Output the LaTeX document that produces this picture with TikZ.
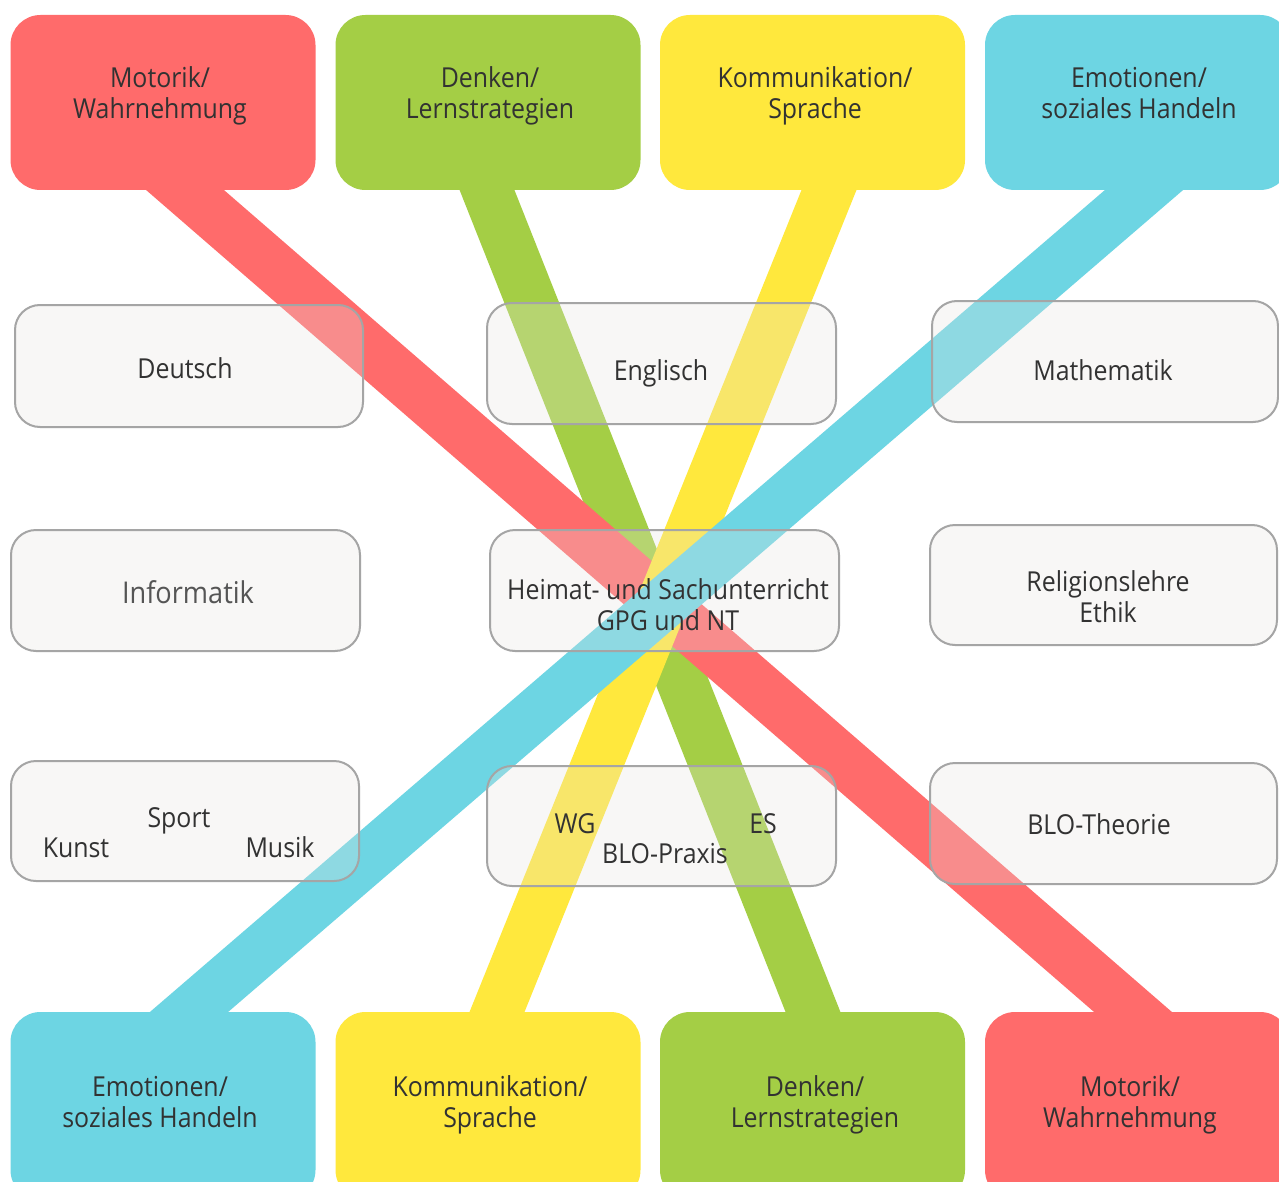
\documentclass[tikz,border=0pt]{standalone}
\usepackage{fontspec}
\setmainfont[FakeStretch=0.905]{Open Sans}
\definecolor{redc}{RGB}{255,107,107}
\definecolor{greenc}{RGB}{164,206,69}
\definecolor{yellowc}{RGB}{255,232,61}
\definecolor{bluec}{RGB}{109,213,227}
\definecolor{txt}{RGB}{50,50,50}
\definecolor{txtlight}{RGB}{85,85,85}
\definecolor{boxfill}{RGB}{230,228,226}
\definecolor{boxline}{RGB}{165,165,165}
\begin{document}
\begin{tikzpicture}[x=1pt,y=-1pt,
  cbox/.style={draw=none, rounded corners=30pt, minimum width=305pt, inner sep=0pt},
  gbox/.style={draw=boxline, line width=2pt, fill=boxfill, fill opacity=0.28, rounded corners=25pt, inner sep=0pt},
  lbl/.style={text=txt, align=center, font=\fontsize{27.5}{31}\selectfont, inner sep=0pt},
  band/.style={line width=51pt, shorten <=-30pt, shorten >=-30pt}]
\path[use as bounding box, clip] (0,0) rectangle (1279,1182);
\fill[white] (0,0) rectangle (1279,1182);

% coloured boxes, top row
\node[cbox, fill=redc,    minimum height=175pt] (motT) at (163,102.5) {};
\node[cbox, fill=greenc,  minimum height=175pt] (denT) at (488,102.5) {};
\node[cbox, fill=yellowc, minimum height=175pt] (komT) at (812.5,102.5) {};
\node[cbox, fill=bluec,   minimum height=175pt] (emoT) at (1137.5,102.5) {};
% coloured boxes, bottom row
\node[cbox, fill=bluec,   minimum height=188pt] (emoB) at (163,1106) {};
\node[cbox, fill=yellowc, minimum height=188pt] (komB) at (488,1106) {};
\node[cbox, fill=greenc,  minimum height=188pt] (denB) at (812.5,1106) {};
\node[cbox, fill=redc,    minimum height=188pt] (motB) at (1137.5,1106) {};

% band end points
\coordinate (rA) at (185,190);  \coordinate (rB) at (1133,1012);
\coordinate (gA) at (487,190);  \coordinate (gB) at (813,1012);
\coordinate (yA) at (829,190);  \coordinate (yB) at (497,1012);
\coordinate (bA) at (1144,190); \coordinate (bB) at (189,1012);

\draw[band, greenc]  (gA) -- (gB);
\draw[band, redc]    (rA) -- (rB);
\draw[band, yellowc] (yA) -- (yB);
\draw[band, bluec]   (bA) -- (bB);

% texts of coloured boxes
\node[lbl] (motTt) at (160,96.5) {Motorik/\strut\\Wahrnehmung\strut};
\node[lbl] (denTt) at (490,96.5) {Denken/\strut\\Lernstrategien\strut};
\node[lbl] (komTt) at (815,96.5) {Kommunikation/\strut\\Sprache\strut};
\node[lbl] (emoTt) at (1139,96.5) {Emotionen/\strut\\soziales Handeln\strut};
\node[lbl] (emoBt) at (160,1105.5) {Emotionen/\strut\\soziales Handeln\strut};
\node[lbl] (komBt) at (490,1105.5) {Kommunikation/\strut\\Sprache\strut};
\node[lbl] (denBt) at (815,1105.5) {Denken/\strut\\Lernstrategien\strut};
\node[lbl] (motBt) at (1130,1105.5) {Motorik/\strut\\Wahrnehmung\strut};

% grey subject boxes
\node[gbox, minimum width=348pt, minimum height=122pt] (deu) at (189,366) {};
\node[gbox, minimum width=349pt, minimum height=121pt] (eng) at (661.5,363.5) {};
\node[gbox, minimum width=346pt, minimum height=121pt] (mat) at (1105,361.5) {};
\node[gbox, minimum width=349pt, minimum height=121pt] (inf) at (185.5,590.5) {};
\node[gbox, minimum width=349pt, minimum height=121pt] (hsu) at (664.5,590.5) {};
\node[gbox, minimum width=347pt, minimum height=120pt] (rel) at (1103.5,585) {};
\node[gbox, minimum width=348pt, minimum height=120pt] (ksm) at (185,821) {};
\node[gbox, minimum width=349pt, minimum height=120pt] (blop) at (661.5,826) {};
\node[gbox, minimum width=347pt, minimum height=121pt] (blot) at (1103.5,823.5) {};

% texts of grey boxes
\node[lbl] (deuT) at (185,372) {Deutsch\strut};
\node[lbl] (engT) at (661,374) {Englisch\strut};
\node[lbl] (matT) at (1103,374.5) {Mathematik\strut};
\node[lbl, text=txtlight, font=\fontsize{30}{31}\selectfont] (infT) at (188,597) {Informatik\strut};
\node[lbl] (hsuT) at (668,609) {Heimat- und Sachunterricht\strut\\GPG und NT\strut};
\node[lbl] (relT) at (1108,601) {Religionslehre\strut\\Ethik\strut};
\node[lbl] (spoT) at (179,821.5) {Sport\strut};
\node[lbl] (kunT) at (76,851.5) {Kunst\strut};
\node[lbl] (musT) at (280,851.5) {Musik\strut};
\node[lbl] (wgT) at (575,827.5) {WG\strut};
\node[lbl] (esT) at (763,827.5) {ES\strut};
\node[lbl] (bpT) at (665,857.5) {BLO-Praxis\strut};
\node[lbl] (btT) at (1099,828) {BLO-Theorie\strut};
\end{tikzpicture}
\end{document}
